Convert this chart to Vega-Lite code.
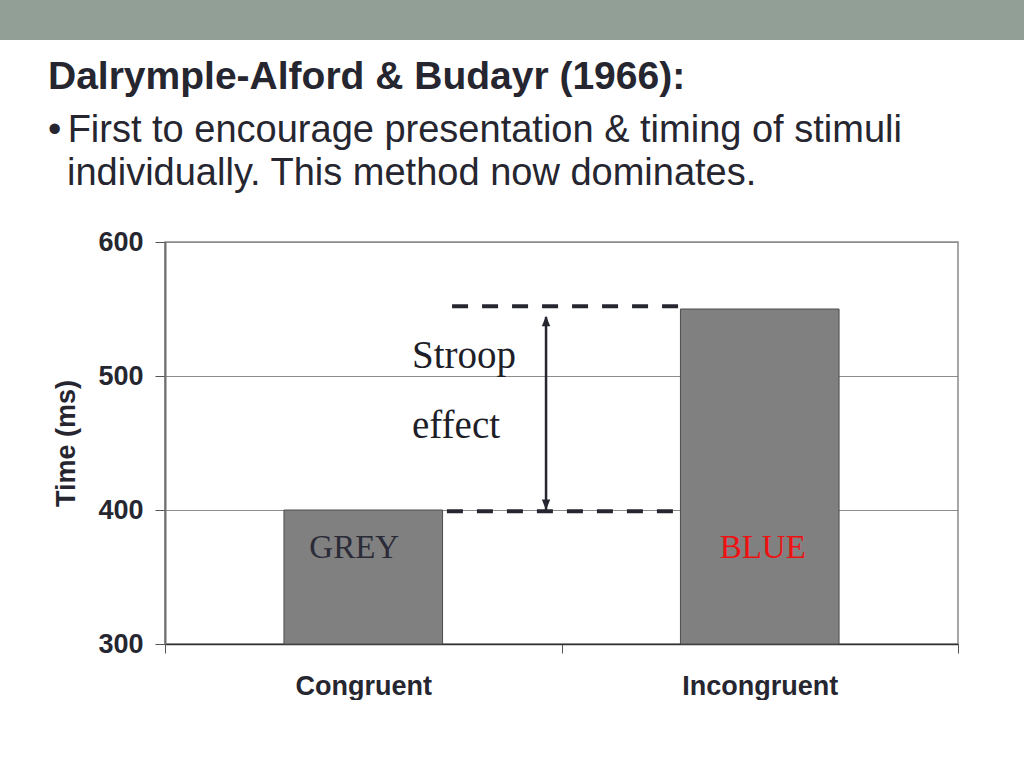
{
  "$schema": "https://vega.github.io/schema/vega-lite/v6.json",
  "padding": 0,
  "background": "white",
  "spacing": 34,
  "config": {"view": {"stroke": null}, "font": "Liberation Sans"},
  "vconcat": [
    {
      "width": 1024,
      "height": 40,
      "view": {"fill": "#919f96", "stroke": null},
      "title": {
        "text": "Dalrymple-Alford & Budayr (1966):",
        "subtitle": ["•\u2006First to encourage presentation & timing of stimuli", "\u200b\u2002individually. This method now dominates."],
        "orient": "bottom",
        "anchor": "start",
        "frame": "group",
        "dx": 48,
        "offset": 18,
        "font": "Liberation Sans",
        "fontSize": 39,
        "fontWeight": "bold",
        "color": "#262630",
        "subtitleFont": "Liberation Sans",
        "subtitleFontSize": 38,
        "subtitleFontWeight": "normal",
        "subtitleColor": "#262630",
        "subtitlePadding": 15,
        "subtitleLineHeight": 43
      },
      "data": {"values": [{"part": "header band"}]},
      "mark": {"type": "rect", "color": "#919f96"},
      "encoding": {}
    },
    {
      "spacing": 0,
      "hconcat": [
        {
          "width": 52,
          "height": 1,
          "data": {"values": []},
          "mark": {"type": "point", "opacity": 0},
          "encoding": {}
        },
        {
          "width": 793,
          "height": 402,
          "view": {"stroke": "#8a8a8a", "strokeWidth": 1.5},
          "data": {"values": [
            {"condition": "Congruent", "time": 400, "word": "GREY"},
            {"condition": "Incongruent", "time": 550, "word": "BLUE"}
          ]},
          "resolve": {"scale": {"x": "independent"}},
          "layer": [
            {
              "encoding": {
                "x": {"field": "condition", "type": "nominal", "sort": ["Congruent", "Incongruent"],
                  "scale": {"domain": ["Congruent", "Incongruent"], "paddingInner": 0, "paddingOuter": 0}}
              },
              "layer": [
                {
                  "mark": {"type": "bar", "width": {"band": 0.4}, "fill": "#808080", "stroke": "#4d4d4d", "strokeWidth": 1},
                  "encoding": {
                    "x": {"field": "condition", "type": "nominal", "sort": ["Congruent", "Incongruent"],
                      "scale": {"domain": ["Congruent", "Incongruent"], "paddingInner": 0, "paddingOuter": 0},
                      "axis": {"title": null, "labelAngle": 0, "tickBand": "extent", "labelFont": "Liberation Sans",
                        "labelFontSize": 27, "labelFontWeight": "bold", "labelColor": "#262630", "labelPadding": 20,
                        "tickSize": 9, "tickColor": "#555555", "domainColor": "#333333", "domainWidth": 1.5, "grid": false}},
                    "y": {"field": "time", "type": "quantitative",
                      "scale": {"domain": [300, 600], "zero": false, "nice": false},
                      "axis": {"values": [300, 400, 500, 600], "grid": true, "gridColor": "#8c8c8c", "gridWidth": 1,
                        "title": "Time (ms)", "titleFont": "Liberation Sans", "titleFontSize": 27, "titleFontWeight": "bold",
                        "titleColor": "#262630", "titlePadding": 17, "labelFont": "Liberation Sans", "labelFontSize": 27,
                        "labelFontWeight": "bold", "labelColor": "#262630", "labelPadding": 12, "tickSize": 10,
                        "tickColor": "#555555", "domainColor": "#6f6f6f", "domainWidth": 2}},
                    "y2": {"datum": 300}
                  }
                },
                {
                  "transform": [{"filter": "datum.word === 'GREY'"}],
                  "mark": {"type": "text", "font": "Liberation Serif", "fontSize": 33, "color": "#2b2b38", "dx": -9, "baseline": "alphabetic"},
                  "encoding": {
                    "y": {"datum": 364},
                    "text": {"field": "word"}
                  }
                },
                {
                  "transform": [{"filter": "datum.word === 'BLUE'"}],
                  "mark": {"type": "text", "font": "Liberation Serif", "fontSize": 33, "color": "#ee1111", "dx": 3, "baseline": "alphabetic"},
                  "encoding": {
                    "y": {"datum": 364},
                    "text": {"field": "word"}
                  }
                }
              ]
            },
            {
              "layer": [
                {
                  "data": {"values": [
                    {"from": 0.724, "to": 1.299, "level": 552},
                    {"from": 0.711, "to": 1.299, "level": 399}
                  ]},
                  "mark": {"type": "rule", "strokeDash": [16, 14], "strokeWidth": 4, "color": "#262630"},
                  "encoding": {
                    "x": {"field": "from", "type": "quantitative", "scale": {"domain": [0, 2], "nice": false, "zero": false}, "axis": null},
                    "x2": {"field": "to"},
                    "y": {"field": "level", "type": "quantitative"}
                  }
                },
                {
                  "data": {"values": [{"pos": 0.961, "top": 544, "bottom": 400}]},
                  "mark": {"type": "rule", "strokeWidth": 2.5, "color": "#262630"},
                  "encoding": {
                    "x": {"field": "pos", "type": "quantitative", "scale": {"domain": [0, 2], "nice": false, "zero": false}, "axis": null},
                    "y": {"field": "top", "type": "quantitative"},
                    "y2": {"field": "bottom"}
                  }
                },
                {
                  "data": {"values": [
                    {"pos": 0.961, "tip": "up", "at": 541},
                    {"pos": 0.961, "tip": "down", "at": 404}
                  ]},
                  "mark": {"type": "point", "filled": true, "size": 110, "color": "#262630", "opacity": 1, "strokeWidth": 0},
                  "encoding": {
                    "x": {"field": "pos", "type": "quantitative", "scale": {"domain": [0, 2], "nice": false, "zero": false}, "axis": null},
                    "y": {"field": "at", "type": "quantitative"},
                    "shape": {"field": "tip", "type": "nominal", "legend": null,
                      "scale": {"domain": ["up", "down"], "range": ["M-0.8,1L0.8,1L0,-1Z", "M-0.8,-1L0.8,-1L0,1Z"]}}
                  }
                },
                {
                  "data": {"values": [
                    {"pos": 0.623, "line": "Stroop", "at": 506},
                    {"pos": 0.623, "line": "effect", "at": 453.7}
                  ]},
                  "mark": {"type": "text", "align": "left", "baseline": "alphabetic", "font": "Liberation Serif", "fontSize": 39, "color": "#1e1e28"},
                  "encoding": {
                    "x": {"field": "pos", "type": "quantitative", "scale": {"domain": [0, 2], "nice": false, "zero": false}, "axis": null},
                    "y": {"field": "at", "type": "quantitative"},
                    "text": {"field": "line"}
                  }
                }
              ]
            }
          ]
        }
      ]
    }
  ]
}
